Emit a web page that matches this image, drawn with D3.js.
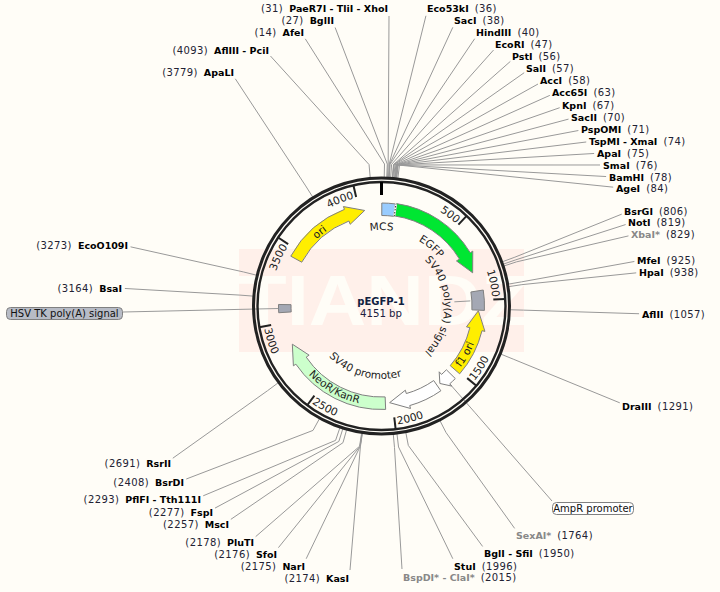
<!DOCTYPE html>
<html>
<head>
<meta charset="utf-8">
<script src="https://cdn.jsdelivr.net/npm/d3@7"></script>
<style>
  html, body { margin: 0; padding: 0; background: #fffdf7; }
  svg { display: block; }
  text { font-family: "DejaVu Sans", sans-serif; }
</style>
</head>
<body>
<svg id="map"></svg>
<script>
const plasmidName = "pEGFP-1";
const plasmidLength = 4151;
const rulerTicks = [500, 1000, 1500, 2000, 2500, 3000, 3500, 4000];

// restriction sites
const siteNames = [
  "AfeI", "BglII", "PaeR7I - TliI - XhoI", "Eco53kI", "SacI", "HindIII", "EcoRI", "PstI", "SalI",
  "AccI", "Acc65I", "KpnI", "SacII", "PspOMI", "TspMI - XmaI", "ApaI", "SmaI", "BamHI", "AgeI",
  "BsrGI", "NotI", "XbaI*", "MfeI", "HpaI", "AflII", "DraIII", "SexAI*", "BglI - SfiI", "StuI",
  "BspDI* - ClaI*", "KasI", "NarI", "SfoI", "PluTI", "MscI", "FspI", "PflFI - Tth111I", "BsrDI",
  "RsrII", "BsaI", "EcoO109I", "ApaLI", "AflIII - PciI"
];
const sitePositions = [
  14, 27, 31, 36, 38, 40, 47, 56, 57,
  58, 63, 67, 70, 71, 74, 75, 76, 78, 84,
  806, 819, 829, 925, 938, 1057, 1291, 1764, 1950, 1996,
  2015, 2174, 2175, 2176, 2178, 2257, 2277, 2293, 2408,
  2691, 3164, 3273, 3779, 4093
];

// features
const featureNames = ["MCS", "EGFP", "SV40 poly(A) signal", "f1 ori", "AmpR promoter", "SV40 promoter", "NeoR/KanR", "HSV TK poly(A) signal", "ori"];
const featureStarts = [2, 97, 935, 1510, 1551, 1672, 2049, 3070, 3445];
const featureEnds = [89, 807, 1066, 1070, 1649, 2020, 2846, 3123, 4036];
const featureArrows = [false, true, false, true, true, true, true, false, true];
const featureColors = ["#99ccff", "#00e632", "#a4a8b4", "#ffee00", "#ffffff", "#ffffff", "#ccffcc", "#a4a8b4", "#ffee00"];

// where each site label sits on the page, same order as siteNames
const labelX = [
  304, 334, 388, 427, 454, 476, 495, 512, 526,
  540, 552, 562, 571, 581, 589, 597, 603, 609, 616,
  624, 628, 631, 637, 639, 642, 622, 516, 484, 454,
  403, 349, 305, 277, 254, 229, 213, 201, 184,
  171, 122, 128, 234, 269
];
const labelY = [
  32, 20, 8, 8, 20, 32, 44, 56, 68,
  80, 92, 105, 117, 129, 141, 153, 165, 177, 188,
  211, 222, 234, 260, 272, 314, 406, 535, 553, 566,
  577, 578, 566, 554, 542, 524, 512, 499, 482,
  463, 288, 245, 72, 50
];

const width = 720, height = 592;
const cx = 381.5, cy = 306;
const grey = "#999";

const svg = d3.select("#map").attr("width", width).attr("height", height);
const defs = svg.append("defs");

// bp -> canvas angle, 0 at the top going clockwise
const angle = d3.scaleLinear().domain([0, plasmidLength]).range([-Math.PI / 2, Math.PI * 1.5]);
const polar = (r, a) => [cx + r * Math.cos(a), cy + r * Math.sin(a)];

// watermark band behind the map
defs.append("clipPath").attr("id", "band")
  .append("rect").attr("x", 239).attr("y", 249).attr("width", 285).attr("height", 103);
svg.append("rect").attr("x", 239).attr("y", 249).attr("width", 285).attr("height", 103).attr("fill", "#fff0ea");
svg.append("text")
  .attr("x", 238).attr("y", 325)
  .attr("clip-path", "url(#band)")
  .style("font-family", "'Liberation Sans'")
  .attr("font-size", 70).attr("font-weight", "bold")
  .attr("textLength", 292).attr("lengthAdjust", "spacingAndGlyphs").attr("fill", "#fffdf7")
  .text("TIANDZ");

// leader lines: ring -> elbow -> label
const leaders = svg.append("g").attr("fill", "none").attr("stroke", grey).attr("stroke-width", 1);
const isLeftLabel = p => p <= 31 || p >= 2100;

siteNames.forEach((name, i) => {
  const a = angle(sitePositions[i]);
  const left = isLeftLabel(sitePositions[i]);
  const from = polar(129, a), elbow = polar(142, a);
  const dx = labelX[i] - elbow[0], dy = labelY[i] - elbow[1];
  const s = Math.abs(dy) / Math.hypot(dx, dy);
  const endX = labelX[i] + (left ? 1 : -1) * (1 + 2 * (1 - s));
  const endY = labelY[i] + (dy < 0 ? 8 : -8) * s;
  leaders.append("path").attr("d", d3.line()([from, elbow, [endX, endY]]));
});

// feature leaders
leaders.append("path").attr("d", d3.line()([polar(103, angle(1600)), polar(142, angle(1600)), [552, 501]]));
leaders.append("path").attr("d", d3.line()([polar(89, angle(1000)), polar(73, angle(1000))]));
leaders.append("path").attr("d", d3.line()([polar(91, angle(3097)), [123, 312]]));

// backbone
svg.append("circle").attr("cx", cx).attr("cy", cy).attr("r", 128).attr("fill", "none").attr("stroke", "#222").attr("stroke-width", 3);
svg.append("circle").attr("cx", cx).attr("cy", cy).attr("r", 124).attr("fill", "none").attr("stroke", "#222").attr("stroke-width", 2.4);

// ruler
const tickG = svg.append("g").attr("stroke", "#222");
tickG.append("path").attr("d", d3.line()([polar(124, angle(0)), polar(111, angle(0))])).attr("stroke", "#000").attr("stroke-width", 3);
rulerTicks.forEach(t => {
  tickG.append("path").attr("d", d3.line()([polar(124, angle(t)), polar(112, angle(t))])).attr("stroke-width", 2);
});

// text running along a circle, clockwise if a1 > a0
let arcId = 0;
function arcText(str, r, a0, a1, anchor, offset, size = 10.5) {
  const id = "arc" + (arcId++);
  const p = d3.path();
  p.arc(cx, cy, r, a0, a1, a1 < a0);
  defs.append("path").attr("id", id).attr("d", p.toString());
  const t = svg.append("text").attr("font-size", size).attr("fill", "#222").attr("text-anchor", anchor);
  t.append("textPath").attr("href", "#" + id).attr("startOffset", offset).text(str);
}

const rad = d => d * Math.PI / 180;
rulerTicks.forEach(t => {
  const a = angle(t);
  const upper = t < plasmidLength / 4 || t > plasmidLength * 3 / 4;
  if (upper) arcText(String(t), 111, a - rad(60), a - rad(1.2), "end", "100%", 10.7);
  else arcText(String(t), 119.5, a - rad(1.2), a - rad(60), "start", "0%", 10.7);
});

// features
function arrowPath(start, end) {
  const rIn = 91, rOut = 103.5, wingIn = 87.5, wingOut = 106.5, rTip = 97;
  const a0 = angle(start), a1 = angle(end);
  const dir = end > start ? 1 : -1;
  const head = Math.min(rad(11), Math.abs(a1 - a0) * 0.5);
  const aBase = a1 - dir * head;
  const ccw = dir < 0;
  const p = d3.path();
  p.arc(cx, cy, rOut, a0, aBase, ccw);
  p.lineTo(...polar(wingOut, aBase));
  p.lineTo(...polar(rTip, a1));
  p.lineTo(...polar(wingIn, aBase));
  p.lineTo(...polar(rIn, aBase));
  p.arc(cx, cy, rIn, aBase, a0, !ccw);
  p.closePath();
  return p.toString();
}
function boxPath(start, end) {
  const p = d3.path();
  p.arc(cx, cy, 103, angle(start), angle(end));
  p.arc(cx, cy, 90.5, angle(end), angle(start), true);
  p.closePath();
  return p.toString();
}

const featureG = svg.append("g").attr("stroke", "#808080").attr("stroke-width", 1);
featureNames.forEach((name, i) => {
  featureG.append("path")
    .attr("d", featureArrows[i] ? arrowPath(featureStarts[i], featureEnds[i]) : boxPath(featureStarts[i], featureEnds[i]))
    .attr("fill", featureColors[i]);
});
// join between MCS and EGFP
svg.append("path")
  .attr("d", d3.line()([polar(90.5, angle(93)), polar(103, angle(93))]))
  .attr("stroke", "#fff").attr("stroke-width", 2);
svg.append("path")
  .attr("d", d3.line()([polar(90.5, angle(93)), polar(103, angle(93))]))
  .attr("stroke", "#333").attr("stroke-dasharray", "1.5,1.5");

// feature captions
arcText("MCS", 76, rad(-110), rad(-70), "middle", "50%");
arcText("EGFP", 75, rad(-90), rad(-10), "middle", "50%");
arcText("SV40 poly(A) signal", 63, rad(-60), rad(60), "middle", "50%");
arcText("ori", 93, rad(-170), rad(-90), "middle", "50%");
arcText("f1 ori", 100, rad(65), rad(-5), "middle", "50%");
arcText("SV40 promoter", 73, rad(160), rad(50), "middle", "50%");
arcText("NeoR/KanR", 100, rad(160), rad(80), "middle", "50%");

// centre title
svg.append("text").attr("x", 381).attr("y", 305).attr("text-anchor", "middle")
  .attr("font-size", 10).attr("font-weight", "bold").attr("fill", "#102040").text(plasmidName);
svg.append("text").attr("x", 381).attr("y", 316.5).attr("text-anchor", "middle")
  .attr("font-size", 10.2).attr("fill", "#202040").text(plasmidLength + " bp");

// site labels
siteNames.forEach((name, i) => {
  const left = isLeftLabel(sitePositions[i]);
  const nameFill = name.includes("*") ? "#888" : "#000";
  const t = svg.append("text").attr("x", labelX[i]).attr("y", labelY[i] + 3.5)
    .attr("text-anchor", left ? "end" : "start").attr("font-size", 10);
  const num = () => t.append("tspan").attr("fill", "#223").attr("letter-spacing", 0.4).text(`(${sitePositions[i]})`);
  const nm = () => t.append("tspan").attr("font-weight", "bold").attr("font-size", 9.5).attr("fill", nameFill).text(name);
  if (left) { num(); nm().attr("dx", 6); }
  else { nm(); num().attr("dx", 6); }
});

// pills for the features that have an outside label
function pill(x, y, w, h, fill, str) {
  svg.append("rect").attr("x", x).attr("y", y).attr("width", w).attr("height", h).attr("rx", 4)
    .attr("fill", fill).attr("stroke", "#808080");
  svg.append("text").attr("x", x + w / 2).attr("y", y + h - 3).attr("text-anchor", "middle")
    .attr("font-size", 10).attr("fill", "#111").text(str);
}
pill(6.5, 307.5, 116, 12, "#b8bcc6", featureNames[7]);
pill(552.5, 502.5, 81, 12, "#ffffff", featureNames[4]);
</script>
</body>
</html>
